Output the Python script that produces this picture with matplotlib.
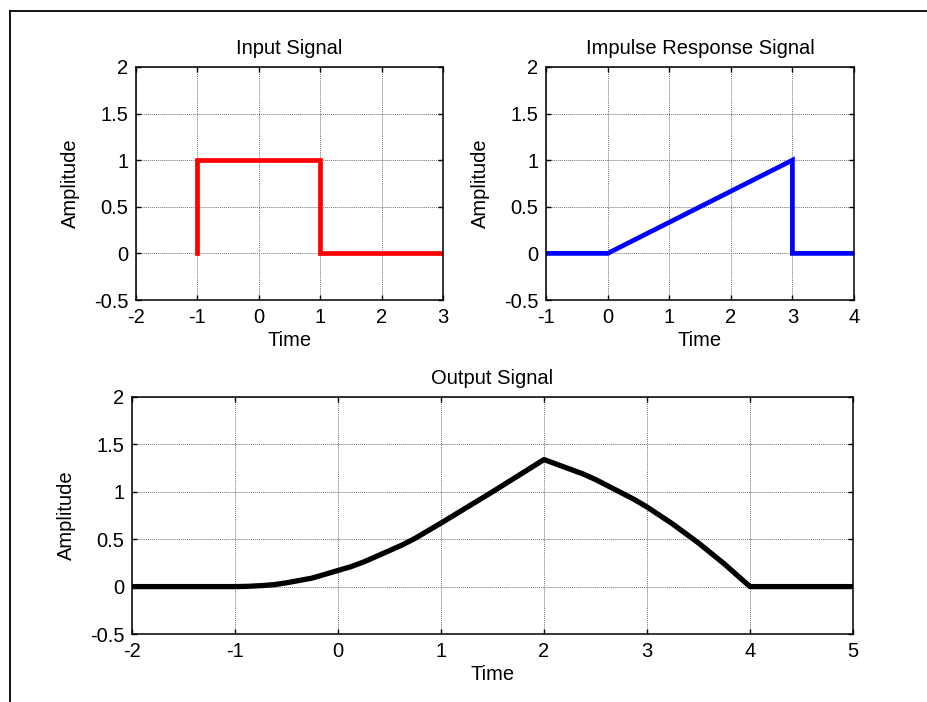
import matplotlib
matplotlib.use("Agg")
import matplotlib.pyplot as plt
from matplotlib.lines import Line2D

plt.rcParams['font.family'] = ['Liberation Sans', 'DejaVu Sans']

# ---- data ----
input_t = [-1, -1, 1, 1, 3]
input_y = [0, 1, 1, 0, 0]

impulse_t = [-1, 0, 3, 3, 4]
impulse_y = [0, 0, 1, 0, 0]

output_t = [-2, -1, -0.875, -0.75, -0.625, -0.5, -0.375, -0.25, -0.125, 0,
            0.125, 0.25, 0.375, 0.5, 0.625, 0.75, 0.875, 1, 1.5,
            2, 2.125, 2.25, 2.375, 2.5, 2.625, 2.75, 2.875, 3,
            3.125, 3.25, 3.375, 3.5, 3.625, 3.75, 3.875, 4, 5]
output_y = [0, 0, 0.003, 0.01, 0.02, 0.04, 0.065, 0.09, 0.13, 0.17,
            0.21, 0.26, 0.32, 0.38, 0.44, 0.51, 0.59, 0.67, 1.0,
            1.34, 1.29, 1.24, 1.19, 1.13, 1.06, 0.99, 0.92, 0.84,
            0.75, 0.66, 0.56, 0.46, 0.35, 0.24, 0.12, 0, 0]

y_ticks = [-0.5, 0, 0.5, 1, 1.5, 2]
y_ticklabels = ['-0.5', '0', '0.5', '1', '1.5', '2']
x_ticks_in = [-2, -1, 0, 1, 2, 3]
x_ticks_imp = [-1, 0, 1, 2, 3, 4]
x_ticks_out = [-2, -1, 0, 1, 2, 3, 4, 5]

titles = ['Input Signal', 'Impulse Response Signal', 'Output Signal']
xlabel = 'Time'
ylabel = 'Amplitude'

W, H = 928, 702
fig = plt.figure(figsize=(W / 100, H / 100), dpi=100)

FS = 14.5


def make_axes(px_left, px_top, px_right, px_bottom):
    return fig.add_axes([px_left / W, 1 - px_bottom / H,
                         (px_right - px_left) / W, (px_bottom - px_top) / H])


def style(ax, xt, title):
    ax.set_xlim(xt[0], xt[-1])
    ax.set_ylim(-0.5, 2)
    ax.set_xticks(xt)
    ax.set_xticklabels([str(v) for v in xt])
    ax.set_yticks(y_ticks)
    ax.set_yticklabels(y_ticklabels)
    ax.grid(True, color='0.45', linestyle=(0, (1, 1)), linewidth=0.7)
    ax.set_axisbelow(True)
    ax.tick_params(direction='in', top=True, right=True, length=3.5,
                   width=1.0, labelsize=FS, color='black')
    ax.tick_params(axis='x', pad=6)
    ax.tick_params(axis='y', pad=5.5)
    for s in ax.spines.values():
        s.set_linewidth(1.1)
        s.set_color('black')
    ax.set_title(title, fontsize=FS, pad=9)
    ax.set_xlabel(xlabel, fontsize=FS, labelpad=3)
    ax.set_ylabel(ylabel, fontsize=FS, labelpad=10)


ax1 = make_axes(136, 67, 443, 300)
ax1.plot(input_t, input_y, color='#ff0000', linewidth=3.4, solid_joinstyle='miter')
style(ax1, x_ticks_in, titles[0])

ax2 = make_axes(546, 67, 854, 300)
ax2.plot(impulse_t, impulse_y, color='#0000ff', linewidth=3.4, solid_joinstyle='miter')
style(ax2, x_ticks_imp, titles[1])

ax3 = make_axes(132, 397, 853, 634)
ax3.plot(output_t, output_y, color='black', linewidth=3.8)
style(ax3, x_ticks_out, titles[2])

# figure frame (left and top edges visible)
fig.add_artist(Line2D([10 / W, 10 / W], [0, 1 - 11 / H], color='black',
                      linewidth=1.3, transform=fig.transFigure))
fig.add_artist(Line2D([10 / W, 1], [1 - 11 / H, 1 - 11 / H], color='black',
                      linewidth=1.3, transform=fig.transFigure))

fig.savefig('out.png', dpi=100, facecolor='white')
